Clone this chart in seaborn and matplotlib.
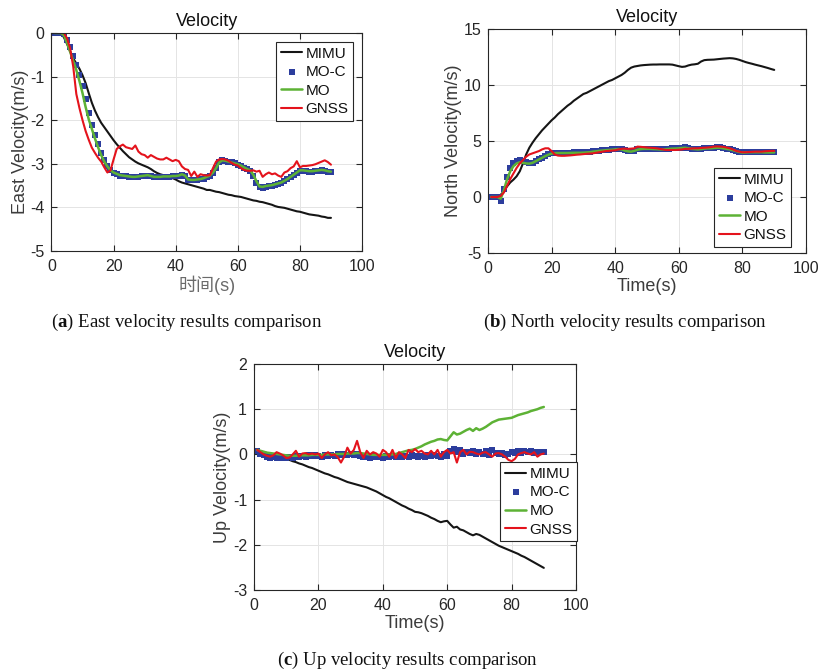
import matplotlib
matplotlib.use("Agg")
import matplotlib.pyplot as plt
import pandas as pd
import seaborn as sns

# Sample times (s), 1 Hz
time_s = list(range(1, 91))

# ---------------- East velocity (m/s) ----------------
east_mimu = [0, 0, 0, -0.1, -0.25, -0.42, -0.58, -0.7, -0.82, -0.97,
             -1.15, -1.38, -1.6, -1.78, -1.93, -2.06, -2.16, -2.26, -2.36, -2.46,
             -2.55, -2.63, -2.71, -2.78, -2.85, -2.9, -2.95, -2.99, -3.02, -3.05,
             -3.08, -3.12, -3.17, -3.21, -3.24, -3.26, -3.28, -3.31, -3.33, -3.36,
             -3.4, -3.43, -3.45, -3.47, -3.49, -3.51, -3.53, -3.55, -3.57, -3.6,
             -3.6, -3.62, -3.64, -3.65, -3.67, -3.69, -3.71, -3.72, -3.74, -3.75,
             -3.76, -3.78, -3.8, -3.82, -3.84, -3.85, -3.87, -3.88, -3.9, -3.92,
             -3.94, -3.97, -3.99, -4.0, -4.01, -4.03, -4.05, -4.07, -4.09, -4.1,
             -4.12, -4.14, -4.16, -4.17, -4.18, -4.19, -4.21, -4.22, -4.24, -4.24]
east_moc = [0, 0, 0, -0.02, -0.15, -0.33, -0.53, -0.74, -0.96, -1.22,
            -1.52, -1.83, -2.1, -2.33, -2.55, -2.75, -2.92, -3.05, -3.14, -3.2,
            -3.24, -3.27, -3.28, -3.29, -3.3, -3.31, -3.31, -3.3, -3.29, -3.28,
            -3.27, -3.29, -3.31, -3.31, -3.31, -3.3, -3.3, -3.3, -3.29, -3.29,
            -3.28, -3.25, -3.28, -3.37, -3.38, -3.38, -3.37, -3.36, -3.34, -3.31,
            -3.27, -3.2, -3.1, -2.97, -2.92, -2.93, -2.95, -2.97, -2.99, -3.02,
            -3.05, -3.09, -3.13, -3.17, -3.28, -3.43, -3.54, -3.55, -3.53, -3.52,
            -3.5, -3.48, -3.46, -3.44, -3.4, -3.36, -3.31, -3.26, -3.21, -3.16,
            -3.16, -3.17, -3.18, -3.18, -3.17, -3.16, -3.15, -3.16, -3.18, -3.19]
east_mo = [0, 0, 0, -0.05, -0.22, -0.43, -0.64, -0.85, -1.1, -1.38,
           -1.7, -1.98, -2.2, -2.42, -2.62, -2.8, -2.95, -3.06, -3.15, -3.2,
           -3.23, -3.26, -3.27, -3.28, -3.29, -3.3, -3.3, -3.29, -3.28, -3.27,
           -3.26, -3.28, -3.3, -3.3, -3.3, -3.29, -3.29, -3.29, -3.28, -3.28,
           -3.27, -3.24, -3.27, -3.36, -3.37, -3.37, -3.36, -3.35, -3.33, -3.3,
           -3.27, -3.2, -3.1, -2.97, -2.92, -2.93, -2.95, -2.97, -2.99, -3.01,
           -3.04, -3.08, -3.12, -3.15, -3.25, -3.4, -3.52, -3.53, -3.51, -3.5,
           -3.49, -3.47, -3.45, -3.43, -3.39, -3.35, -3.3, -3.25, -3.2, -3.15,
           -3.15, -3.16, -3.17, -3.17, -3.16, -3.15, -3.14, -3.15, -3.17, -3.18]
east_gnss = [0, 0.02, 0.02, 0, -0.12, -0.35, -0.77, -1.4, -1.72, -2.0,
             -2.25, -2.45, -2.63, -2.75, -2.86, -2.95, -3.08, -3.2, -3.15, -2.9,
             -2.66, -2.6, -2.56, -2.62, -2.64, -2.66, -2.58, -2.72, -2.78, -2.8,
             -2.86, -2.8, -2.84, -2.88, -2.9, -2.9, -2.86, -2.9, -2.94, -2.91,
             -2.94, -3.06, -3.12, -3.14, -3.28, -3.18, -3.3, -3.24, -3.26, -3.27,
             -3.26, -3.1, -2.95, -2.9, -2.89, -2.9, -2.93, -2.98, -3.02, -3.04,
             -3.1, -3.14, -3.16, -3.16, -3.15, -3.18, -3.16, -3.3, -3.24, -3.2,
             -3.24, -3.22, -3.27, -3.3, -3.2, -3.17, -3.1, -3.06, -2.94, -3.08,
             -3.05, -3.05, -3.04, -3.03, -3.01, -2.98, -2.95, -2.92, -2.96, -3.02]

# ---------------- North velocity (m/s) ----------------
north_mimu = [0, 0, 0.05, 0.2, 0.5, 0.95, 1.3, 1.55, 1.85, 2.3,
              3.0, 3.8, 4.4, 4.85, 5.25, 5.6, 5.95, 6.25, 6.55, 6.85,
              7.1, 7.4, 7.65, 7.9, 8.15, 8.35, 8.6, 8.8, 9.0, 9.2,
              9.3, 9.45, 9.6, 9.75, 9.9, 10.05, 10.2, 10.35, 10.45, 10.6,
              10.75, 10.9, 11.1, 11.35, 11.55, 11.65, 11.7, 11.75, 11.78, 11.8,
              11.82, 11.83, 11.83, 11.84, 11.84, 11.84, 11.84, 11.82, 11.75, 11.68,
              11.62, 11.65, 11.75, 11.82, 11.85, 11.9, 12.1, 12.22, 12.25, 12.26,
              12.27, 12.3, 12.33, 12.36, 12.38, 12.4, 12.38, 12.33, 12.25, 12.15,
              12.05, 11.97, 11.9, 11.82, 11.75, 11.68, 11.6, 11.52, 11.43, 11.35]
north_moc = [0, 0, 0, -0.35, 0.7, 1.8, 2.6, 3.05, 3.25, 3.3,
             3.25, 3.15, 3.05, 3.08, 3.22, 3.37, 3.52, 3.67, 3.8, 3.9,
             3.95, 3.96, 3.96, 3.96, 3.96, 3.97, 3.98, 3.98, 3.98, 3.99,
             4.01, 4.03, 4.08, 4.11, 4.15, 4.18, 4.21, 4.23, 4.25, 4.28,
             4.31, 4.28, 4.18, 4.11, 4.08, 4.15, 4.25, 4.31, 4.33, 4.33,
             4.33, 4.31, 4.3, 4.28, 4.28, 4.3, 4.33, 4.35, 4.36, 4.38,
             4.41, 4.43, 4.38, 4.33, 4.31, 4.28, 4.31, 4.35, 4.38, 4.38,
             4.41, 4.43, 4.43, 4.38, 4.33, 4.28, 4.21, 4.13, 4.05, 4.0,
             4.01, 4.03, 4.03, 4.03, 4.03, 4.03, 4.01, 4.01, 4.01, 4.0]
north_mo = [0, 0, 0, -0.15, 0.6, 1.6, 2.3, 2.75, 3.0, 3.1,
            3.05, 3.0, 2.98, 3.05, 3.2, 3.35, 3.5, 3.65, 3.78, 3.88,
            3.92, 3.93, 3.93, 3.93, 3.93, 3.94, 3.95, 3.95, 3.95, 3.96,
            3.98, 4.0, 4.05, 4.08, 4.12, 4.15, 4.18, 4.2, 4.22, 4.25,
            4.28, 4.25, 4.15, 4.08, 4.05, 4.12, 4.22, 4.28, 4.3, 4.3,
            4.3, 4.28, 4.27, 4.25, 4.25, 4.27, 4.3, 4.32, 4.33, 4.35,
            4.38, 4.4, 4.35, 4.3, 4.28, 4.25, 4.28, 4.32, 4.35, 4.35,
            4.38, 4.4, 4.4, 4.35, 4.3, 4.25, 4.18, 4.1, 4.02, 3.97,
            3.98, 4.0, 4.0, 4.0, 4.0, 4.0, 3.98, 3.98, 3.98, 3.98]
north_gnss = [0, 0, 0, 0.1, 0.4, 1.0, 1.6, 2.1, 2.6, 3.0,
              3.3, 3.6, 3.8, 3.9, 4.0, 4.1, 4.25, 4.35, 4.35, 4.1,
              3.8, 3.7, 3.68, 3.68, 3.7, 3.72, 3.75, 3.78, 3.8, 3.83,
              3.86, 3.88, 3.9, 3.95, 4.0, 4.05, 4.1, 4.12, 4.15, 4.17,
              4.25, 4.3, 4.32, 4.3, 4.32, 4.35, 4.5, 4.48, 4.45, 4.42,
              4.4, 4.38, 4.35, 4.3, 4.25, 4.2, 4.2, 4.2, 4.2, 4.22,
              4.25, 4.3, 4.3, 4.33, 4.35, 4.35, 4.38, 4.4, 4.42, 4.45,
              4.5, 4.52, 4.5, 4.48, 4.42, 4.35, 4.25, 4.12, 4.05, 4.0,
              4.0, 4.02, 4.03, 4.05, 4.05, 4.05, 4.08, 4.1, 4.12, 4.12]

# ---------------- Up velocity (m/s) ----------------
up_mimu = [0.1, 0.07, 0.05, 0.03, 0.01, -0.01, -0.03, -0.05, -0.08, -0.1,
           -0.12, -0.15, -0.17, -0.2, -0.22, -0.25, -0.28, -0.3, -0.33, -0.36,
           -0.39, -0.42, -0.44, -0.47, -0.5, -0.52, -0.55, -0.58, -0.61, -0.63,
           -0.65, -0.67, -0.69, -0.71, -0.73, -0.76, -0.79, -0.82, -0.86, -0.9,
           -0.94, -0.97, -1.01, -1.05, -1.09, -1.13, -1.16, -1.2, -1.23, -1.27,
           -1.28, -1.3, -1.33, -1.36, -1.4, -1.43, -1.47, -1.5, -1.48, -1.47,
           -1.55, -1.62, -1.6, -1.66, -1.68, -1.72, -1.76, -1.79, -1.76, -1.78,
           -1.82, -1.86, -1.9, -1.94, -1.98, -2.02, -2.05, -2.08, -2.11, -2.14,
           -2.17, -2.2, -2.24, -2.27, -2.31, -2.35, -2.39, -2.43, -2.47, -2.51]
up_moc = [0.08, 0.02, -0.02, -0.05, -0.07, -0.05, -0.08, -0.06, -0.08, -0.07,
          -0.05, -0.08, -0.04, -0.06, -0.03, -0.05, -0.02, -0.04, -0.02, -0.03,
          -0.06, -0.02, -0.04, -0.01, -0.03, 0.0, -0.02, 0.01, -0.01, 0.0,
          -0.02, 0.02, -0.04, -0.06, -0.05, -0.07, -0.04, -0.06, -0.05, -0.07,
          -0.04, -0.06, -0.03, -0.05, -0.04, -0.06, -0.03, -0.05, -0.02, -0.04,
          -0.06, -0.03, -0.05, -0.02, -0.04, -0.01, -0.03, -0.05, 0.0, -0.03,
          0.08, 0.12, 0.05, 0.1, 0.02, 0.06, 0.03, 0.08, 0.01, 0.05,
          0.02, 0.07, -0.01, 0.1, 0.04, 0.0, 0.03, -0.01, 0.02, 0.05,
          0.03, 0.07, 0.04, 0.08, 0.05, 0.07, 0.04, 0.06, 0.05, 0.06]
up_mo = [0.1, 0.08, 0.06, 0.04, 0.03, 0.02, 0.01, 0.0, -0.01, -0.02,
         -0.03, -0.03, -0.03, -0.02, -0.02, -0.02, -0.02, -0.01, -0.01, -0.01,
         -0.01, 0.0, 0.0, 0.0, 0.0, 0.01, 0.01, 0.01, 0.02, 0.02,
         0.02, 0.03, 0.03, 0.02, 0.01, 0.0, -0.01, -0.01, -0.01, -0.01,
         -0.01, 0.0, 0.0, 0.01, 0.03, 0.05, 0.07, 0.09, 0.1, 0.12,
         0.15, 0.18, 0.22, 0.25, 0.28, 0.3, 0.33, 0.34, 0.32, 0.31,
         0.4, 0.49, 0.44, 0.46, 0.5, 0.54, 0.57, 0.52, 0.58, 0.54,
         0.57, 0.61, 0.66, 0.71, 0.74, 0.77, 0.78, 0.79, 0.8, 0.81,
         0.84, 0.87, 0.89, 0.91, 0.93, 0.96, 0.98, 1.0, 1.03, 1.05]
up_gnss = [0.1, 0.05, 0.0, -0.03, -0.05, -0.02, 0.05, 0.02, -0.02, -0.08,
           -0.07, 0.0, 0.08, -0.05, 0.02, 0.03, 0.0, 0.02, 0.0, 0.02,
           -0.08, 0.0, 0.05, -0.02, 0.0, -0.06, -0.18, -0.05, 0.15, 0.02,
           0.1, 0.3, 0.05, -0.08, 0.08, 0.0, 0.05, 0.02, -0.05, 0.1,
           0.05, -0.05, 0.1, -0.08, 0.05, 0.0, -0.08, 0.1, 0.05, 0.12,
           0.05, 0.08, 0.02, 0.0, 0.08, 0.0, 0.1, -0.05, 0.05, 0.1,
           0.02, 0.05, -0.18, 0.05, 0.1, 0.0, 0.06, 0.05, 0.02, 0.0,
           0.04, 0.05, 0.0, -0.05, 0.02, 0.03, 0.0, -0.05, -0.12, -0.15,
           -0.1, 0.0, 0.03, 0.05, 0.02, 0.0, 0.05, -0.05, 0.0, 0.02]

x_ticks = [0, 20, 40, 60, 80, 100]

C_MIMU = "#151515"
C_MOC = "#2c3d9d"
C_MO = "#5db235"
C_GNSS = "#e4131c"
C_AXIS = "#262626"
C_LABEL = "#3c3c3c"

sns.set_theme(style="white")
plt.rcParams["font.family"] = ["Liberation Sans", "Noto Sans CJK SC", "DejaVu Sans"]
plt.rcParams["axes.unicode_minus"] = False
plt.rcParams["mathtext.fontset"] = "custom"
plt.rcParams["mathtext.rm"] = "Liberation Serif"
plt.rcParams["mathtext.bf"] = "Liberation Serif:bold"

fig = plt.figure(figsize=(8.25, 6.72), dpi=100)


def draw_panel(rect, mimu, moc, mo, gnss, ylim, yticks, ylabel, xlabel,
               legend_loc, legend_anchor, xlabel_kw=None):
    ax = fig.add_axes(rect)
    df = pd.DataFrame({"t": time_s, "MIMU": mimu, "MO-C": moc, "MO": mo, "GNSS": gnss})
    sns.lineplot(data=df, x="t", y="MIMU", ax=ax, color=C_MIMU, linewidth=1.5,
                 label="MIMU", estimator=None, sort=False, zorder=2.0)
    sns.scatterplot(data=df, x="t", y="MO-C", ax=ax, color=C_MOC, marker="s",
                    s=22, linewidth=0, label="MO-C", zorder=2.1)
    sns.lineplot(data=df, x="t", y="MO", ax=ax, color=C_MO, linewidth=1.8,
                 label="MO", estimator=None, sort=False, zorder=2.2)
    sns.lineplot(data=df, x="t", y="GNSS", ax=ax, color=C_GNSS, linewidth=1.5,
                 label="GNSS", estimator=None, sort=False, zorder=2.3)

    ax.set_xlim(0, 100)
    ax.set_ylim(*ylim)
    ax.set_xticks(x_ticks)
    ax.set_yticks(yticks)
    ax.grid(True, color="#e4e4e4", linewidth=0.7)
    ax.set_axisbelow(True)
    for sp in ax.spines.values():
        sp.set_color(C_AXIS)
        sp.set_linewidth(0.8)
    ax.tick_params(direction="in", length=4, width=0.8, colors=C_AXIS,
                   labelsize=11.5, top=True, right=True, bottom=True, left=True)
    ax.tick_params(axis="x", pad=6)
    ax.tick_params(axis="y", pad=5)
    ax.set_title("Velocity", fontsize=13, color="#111111", pad=5)
    ax.set_ylabel(ylabel, fontsize=13, color=C_LABEL, labelpad=1)
    kw = dict(fontsize=13, color=C_LABEL, labelpad=1)
    if xlabel_kw:
        kw.update(xlabel_kw)
    ax.set_xlabel(xlabel, **kw)

    handles, labels = ax.get_legend_handles_labels()
    leg = ax.legend(handles, labels, loc=legend_loc, bbox_to_anchor=legend_anchor,
                    frameon=True, fancybox=False, framealpha=1, edgecolor=C_AXIS,
                    fontsize=11, handlelength=1.4, handletextpad=0.2,
                    labelspacing=0.3, borderpad=0.3, borderaxespad=0,
                    scatterpoints=1)
    leg.get_frame().set_linewidth(0.8)
    for txt in leg.get_texts():
        txt.set_color("#111111")
    return ax


draw_panel([0.0624, 0.6265, 0.3764, 0.3244], east_mimu, east_moc, east_mo, east_gnss,
           (-5, 0), [-5, -4, -3, -2, -1, 0], "East Velocity(m/s)", "时间(s)",
           "upper right", (0.971, 0.959), xlabel_kw=dict(color="#6a6a6a"))
draw_panel([0.5915, 0.6235, 0.3855, 0.3333], north_mimu, north_moc, north_mo, north_gnss,
           (-5, 15), [-5, 0, 5, 10, 15], "North Velocity(m/s)", "Time(s)",
           "lower right", (0.953, 0.027))
draw_panel([0.3079, 0.1220, 0.3903, 0.3363], up_mimu, up_moc, up_mo, up_gnss,
           (-3, 2), [-3, -2, -1, 0, 1, 2], "Up Velocity(m/s)", "Time(s)",
           "upper right", (1.003, 0.565))

cap_kw = dict(ha="center", va="center", fontsize=13.5, family="Liberation Serif",
              color="#111111")
fig.text(186.5 / 825, 1 - 322 / 672, r"($\mathbf{a}$) East velocity results comparison", **cap_kw)
fig.text(625 / 825, 1 - 322 / 672, r"($\mathbf{b}$) North velocity results comparison", **cap_kw)
fig.text(408 / 825, 1 - 660 / 672, r"($\mathbf{c}$) Up velocity results comparison", **cap_kw)

fig.savefig("out.png", dpi=100, facecolor="white")
